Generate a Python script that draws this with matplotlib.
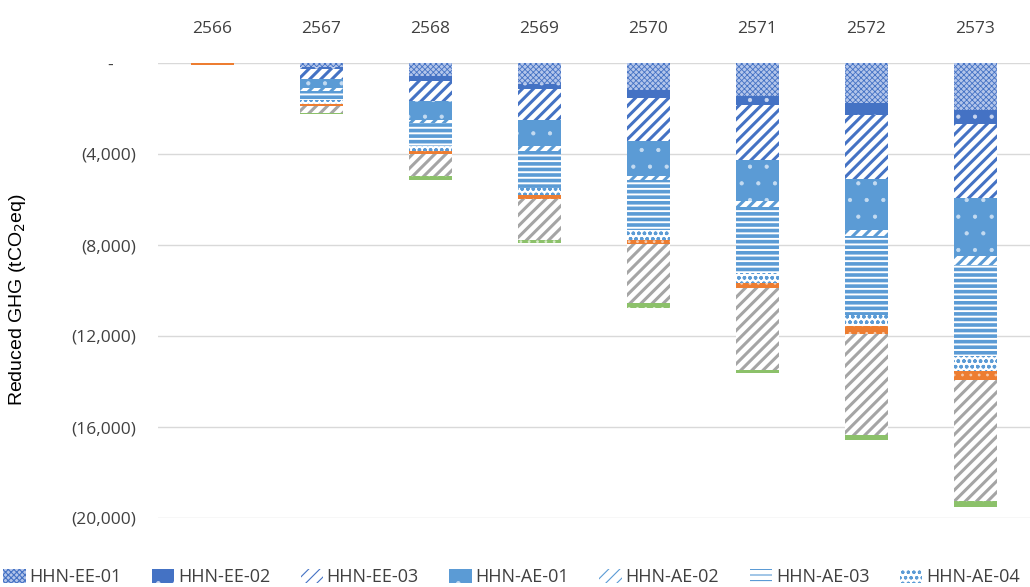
import matplotlib
matplotlib.use("Agg")
import matplotlib.pyplot as plt
import numpy as np
from matplotlib.patches import Patch
from matplotlib.ticker import FuncFormatter

years = ["2566", "2567", "2568", "2569", "2570", "2571", "2572", "2573"]
series = ["HHN-EE-01", "HHN-EE-02", "HHN-EE-03", "HHN-AE-01", "HHN-AE-02",
          "HHN-AE-03", "HHN-AE-04", "HHN-AE-05", "HHN-AE-06", "HHN-AE-07"]
n_legend = 7  # the reference only shows the first seven legend entries

# reductions (tCO2eq), plotted as negative values
ee01 = [0, 180, 590, 925, 1170, 1470, 1760, 2050]
ee02 = [0, 70, 190, 205, 365, 395, 515, 615]
ee03 = [0, 450, 880, 1365, 1875, 2390, 2825, 3265]
ae01 = [0, 420, 835, 1170, 1570, 1830, 2230, 2535]
ae02 = [0, 90, 130, 220, 145, 265, 295, 395]
ae03 = [0, 430, 1040, 1610, 2200, 2885, 3440, 4000]
ae04 = [0, 170, 220, 325, 440, 440, 515, 690]
ae05 = [80, 80, 115, 145, 190, 220, 320, 365]
ae06 = [0, 300, 985, 1800, 2595, 3590, 4440, 5350]
ae07 = [0, 60, 145, 145, 220, 145, 220, 245]
values = [ee01, ee02, ee03, ae01, ae02, ae03, ae04, ae05, ae06, ae07]

# (facecolor, hatch colour, hatch, hatch linewidth)
styles = [
    ("#b3c5ea", "#4472C4", "xxxxxx", 0.6),
    ("#4472C4", "#c9d6f0", ".", 0.6),
    ("white", "#4472C4", "///", 2.2),
    ("#5B9BD5", "#c4dbf1", ".", 0.6),
    ("white", "#5B9BD5", "///", 2.2),
    ("white", "#5B9BD5", "---", 2.6),
    ("white", "#5B9BD5", "ooo", 1.0),
    ("#ED7D31", "#f7c9a9", "..", 0.8),
    ("white", "#A5A5A5", "///", 2.2),
    ("#8cc16a", "#d6eac8", "..", 0.8),
]

plt.rcParams["font.family"] = ["Open Sans", "DejaVu Sans"]

fig = plt.figure(figsize=(10.3, 5.87), dpi=100)
ax = fig.add_axes([158 / 1030, 1 - 518 / 587, 872 / 1030, 455 / 587])

x = np.arange(len(years))
bottom = np.zeros(len(years))
handles = []
for name, vals, (fc, hc, hatch, hlw) in zip(series, values, styles):
    v = -np.array(vals, dtype=float)
    plt.rcParams["hatch.linewidth"] = hlw
    bars = ax.bar(x, v, 0.4, bottom=bottom, color=fc, edgecolor=hc,
                  hatch=hatch, linewidth=0, zorder=3)
    for b in bars:
        if hasattr(b, "set_hatch_linewidth"):
            b.set_hatch_linewidth(hlw)
    p = Patch(facecolor=fc, edgecolor=hc, hatch=hatch, linewidth=0, label=name)
    if hasattr(p, "set_hatch_linewidth"):
        p.set_hatch_linewidth(hlw)
    handles.append(p)
    bottom = bottom + v

ax.set_xlim(-0.5, 7.5)
ax.set_ylim(-20000, 0)
ax.set_yticks(np.arange(-20000, 1, 4000))


def acct(val, pos):
    if val == 0:
        return "-     "
    return "({:,.0f})".format(abs(val))


ax.yaxis.set_major_formatter(FuncFormatter(acct))
ax.xaxis.tick_top()
ax.set_xticks(x)
ax.set_xticklabels(years)
ax.tick_params(axis="x", length=0, pad=19, labelsize=12.5, labelcolor="#404040")
ax.tick_params(axis="y", length=0, pad=16, labelsize=12.5, labelcolor="#404040")
for s in ax.spines.values():
    s.set_visible(False)
ax.grid(axis="y", color="#d9d9d9", linewidth=1, zorder=0)
ax.set_axisbelow(True)

fig.text(18 / 1030, 1 - 300 / 587, "Reduced GHG (tCO$_2$eq)", rotation=90,
         ha="center", va="center", fontsize=14, family="Liberation Sans")

fig.legend(handles=handles[:n_legend], loc="center left", ncol=n_legend,
           bbox_to_anchor=(3 / 1030, 1 - 577 / 587), frameon=False,
           borderpad=0, borderaxespad=0, handlelength=1.25, handleheight=0.8,
           handletextpad=0.2, columnspacing=1.68, fontsize=13,
           labelcolor="#404040")

fig.savefig("out.png", dpi=100)
